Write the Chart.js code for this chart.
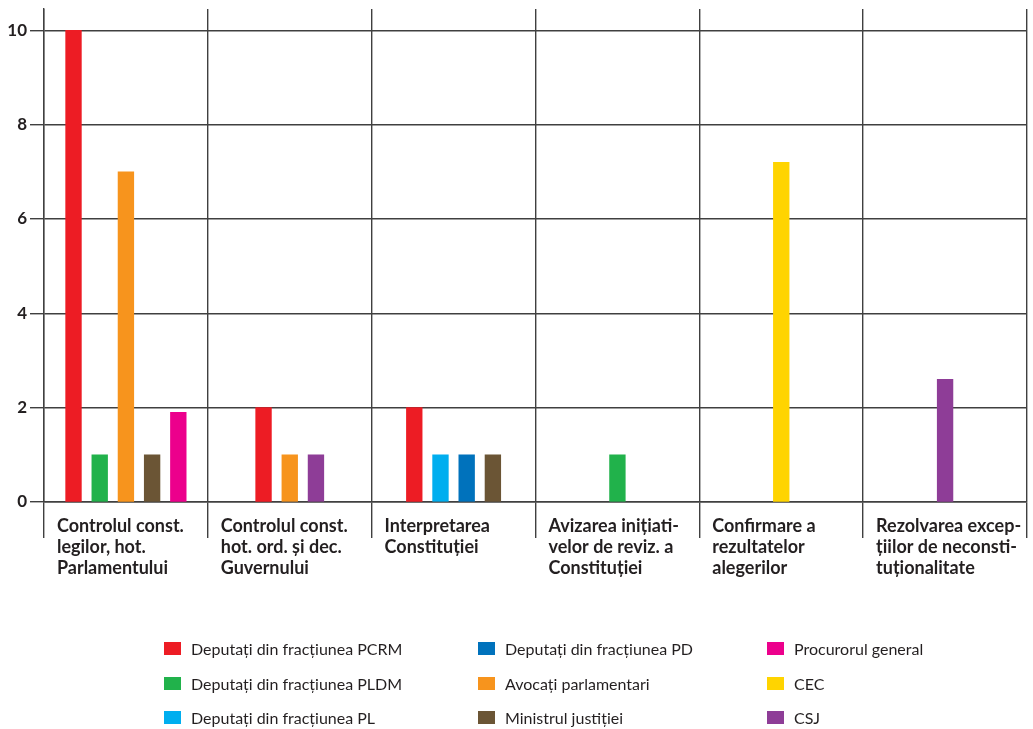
<!DOCTYPE html>
<html>
<head>
<meta charset="utf-8">
<script src="https://cdn.jsdelivr.net/npm/chart.js@4.4.1/dist/chart.umd.min.js"></script>
<style>
  html, body { margin: 0; padding: 0; background: #fff; overflow: hidden; }
  #wrap { position: relative; width: 1033px; height: 729px; }
  #c { position: absolute; left: 0; top: 0; }
  #legend { position: absolute; left: 0; top: 0; width: 1033px; height: 729px; pointer-events: none;
            font-family: Lato, "Open Sans", sans-serif; font-size: 16px; color: #231f20; }
  .li { position: absolute; display: flex; align-items: center; height: 20px; white-space: nowrap; }
  .li .box { width: 17px; height: 13px; margin-right: 10px; flex: none; }
</style>
</head>
<body>
<div id="wrap">
  <canvas id="c" width="1033" height="729"></canvas>
  <div id="legend"></div>
</div>
<script>
// ---- data ----
const categories = [
  ["Controlul const.", "legilor, hot.", "Parlamentului"],
  ["Controlul const.", "hot. ord. și dec.", "Guvernului"],
  ["Interpretarea", "Constituției"],
  ["Avizarea inițiati-", "velor de reviz. a", "Constituției"],
  ["Confirmare a", "rezultatelor", "alegerilor"],
  ["Rezolvarea excep-", "țiilor de neconsti-", "tuționalitate"]
];
const seriesNames = [
  "Deputați din fracțiunea PCRM",
  "Deputați din fracțiunea PLDM",
  "Deputați din fracțiunea PL",
  "Deputați din fracțiunea PD",
  "Avocați parlamentari",
  "Ministrul justiției",
  "Procurorul general",
  "CEC",
  "CSJ"
];
const pcrm      = [10,   2,    2,    null, null, null];
const pldm      = [1,    null, null, 1,    null, null];
const pl        = [null, null, 1,    null, null, null];
const pd        = [null, null, 1,    null, null, null];
const avocati   = [7,    1,    null, null, null, null];
const ministrul = [1,    null, 1,    null, null, null];
const procuror  = [1.9,  null, null, null, null, null];
const cec       = [null, null, null, null, 7.2,  null];
const csj       = [null, 1,    null, null, null, 2.6];
const yTicks = [0, 2, 4, 6, 8, 10];

// ---- styles ----
const seriesValues = [pcrm, pldm, pl, pd, avocati, ministrul, procuror, cec, csj];
const colors = ["#ed1c24", "#21b24b", "#00aeef", "#0072bc", "#f7941d", "#6b5535", "#ec008c", "#ffd400", "#8e3d97"];
const gridColor = "#404040";
const textColor = "#231f20";

const datasets = seriesNames.map((name, i) => ({
  label: name,
  data: seriesValues[i],
  backgroundColor: colors[i],
  borderWidth: 0,
  barThickness: 26.2,
  maxBarThickness: 15.7,
  skipNull: true
}));

const chart = new Chart(document.getElementById('c'), {
  type: 'bar',
  data: { labels: categories, datasets },
  options: {
    responsive: false,
    animation: false,
    layout: { padding: { top: 9, right: 6, left: 0, bottom: 0 } },
    plugins: {
      legend: { display: false },
      tooltip: { enabled: false },
      title: { display: false }
    },
    scales: {
      x: {
        offset: true,
        grid: { offset: true, color: gridColor, lineWidth: 1.4, tickLength: 36, tickColor: gridColor, drawOnChartArea: true },
        border: { display: true, color: gridColor, width: 1.4 },
        ticks: {
          align: 'start',
          labelOffset: -69,
          padding: -22,
          maxRotation: 0,
          autoSkip: false,
          color: textColor,
          font: { family: 'Lato', weight: 'bold', size: 18, lineHeight: '21px' }
        },
        afterFit(s) { s.height = 227; s.paddingLeft = 0; s.paddingRight = 0; }
      },
      y: {
        min: 0,
        max: 10.45,
        grid: { color: gridColor, lineWidth: 1.4, tickLength: 14, tickColor: gridColor },
        border: { display: true, color: gridColor, width: 1.4 },
        ticks: {
          stepSize: 2,
          includeBounds: false,
          padding: 3,
          color: textColor,
          font: { family: 'Lato', weight: 'bold', size: 17 },
          callback: (v) => yTicks.includes(v) ? String(v) : ''
        },
        afterFit(s) { s.width = 44; s.paddingTop = 0; s.paddingBottom = 0; }
      }
    }
  }
});

// ---- HTML legend in three columns built from the chart datasets ----
(function buildLegend() {
  const el = document.getElementById('legend');
  const colX = [164, 478, 767];
  const rowY = [648, 683, 717];
  chart.data.datasets.forEach((ds, i) => {
    const col = Math.floor(i / 3), row = i % 3;
    const item = document.createElement('div');
    item.className = 'li';
    item.style.left = colX[col] + 'px';
    item.style.top = (rowY[row] - 10) + 'px';
    const box = document.createElement('span');
    box.className = 'box';
    box.style.background = ds.backgroundColor;
    const txt = document.createElement('span');
    txt.textContent = ds.label;
    item.appendChild(box);
    item.appendChild(txt);
    el.appendChild(item);
  });
})();
</script>
</body>
</html>
